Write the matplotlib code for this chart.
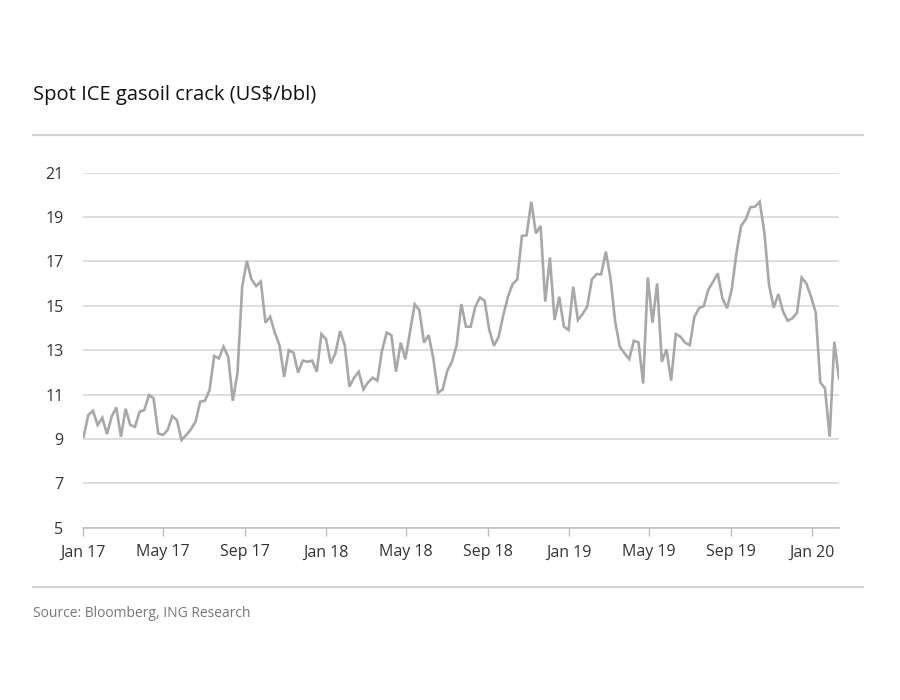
import matplotlib
matplotlib.use("Agg")
import matplotlib.pyplot as plt
import numpy as np
import pandas as pd

# Weekly spot ICE gasoil crack, US$/bbl
crack_2017 = [9.1, 10.08, 10.27, 9.63, 9.96, 9.22, 10.0, 10.42, 9.1, 10.36, 9.63, 9.55,
              10.23, 10.3, 10.98, 10.83, 9.25, 9.18, 9.4, 10.03, 9.85, 8.95, 9.18, 9.43,
              9.78, 10.68, 10.72, 11.2, 12.74, 12.63, 13.16, 12.7, 10.72, 11.99, 15.86, 17.02,
              16.19, 15.89, 16.09, 14.24, 14.51, 13.79, 13.23, 11.8, 13.0, 12.89, 11.99, 12.53,
              12.48, 12.53, 12.03, 13.73]
crack_2018 = [13.49, 12.41, 12.86, 13.86, 13.23, 11.36, 11.76, 12.03, 11.23, 11.55, 11.76, 11.63,
              13.0, 13.79, 13.68, 12.03, 13.34, 12.59, 13.83, 15.07, 14.81, 13.34, 13.68, 12.63,
              11.08, 11.23, 12.08, 12.48, 13.23, 15.08, 14.06, 14.06, 14.96, 15.38, 15.23, 13.91,
              13.2, 13.6, 14.58, 15.41, 15.98, 16.19, 18.15, 18.18, 19.69, 18.27, 18.6, 15.19,
              17.18, 14.36, 15.41, 14.06, 13.91]
crack_2019 = [15.86, 14.36, 14.63, 14.96, 16.19, 16.43, 16.42, 17.44, 16.24, 14.28, 13.16, 12.86,
              12.6, 13.43, 13.35, 11.5, 16.28, 14.24, 16.01, 12.48, 13.04, 11.63, 13.73, 13.61,
              13.34, 13.23, 14.51, 14.89, 14.99, 15.74, 16.09, 16.46, 15.34, 14.89, 15.74, 17.36,
              18.6, 18.9, 19.44, 19.47, 19.69, 18.3, 15.94, 14.92, 15.53, 14.74, 14.33, 14.44,
              14.69, 16.27, 16.01, 15.41]
crack_2020 = [14.71, 11.54, 11.28, 9.1, 13.38, 11.73]

first_week = "2017-01-02"
tick_dates = ["2017-01-01", "2017-05-01", "2017-09-01", "2018-01-01", "2018-05-01",
              "2018-09-01", "2019-01-01", "2019-05-01", "2019-09-01", "2020-01-01"]
tick_labels = ["Jan 17", "May 17", "Sep 17", "Jan 18", "May 18",
               "Sep 18", "Jan 19", "May 19", "Sep 19", "Jan 20"]
y_ticks = [5, 7, 9, 11, 13, 15, 17, 19, 21]

TITLE = "Spot ICE gasoil crack (US$/bbl)"
SOURCE = "Source: Bloomberg, ING Research"

plt.rcParams["font.family"] = ["Open Sans", "DejaVu Sans"]


def main():
    values = crack_2017 + crack_2018 + crack_2019 + crack_2020
    dates = pd.date_range(first_week, periods=len(values), freq="7D")

    fig = plt.figure(figsize=(9, 7), dpi=100)
    ax = fig.add_axes([0.0922, 0.2461, 0.8400, 0.5072])

    ax.plot(dates, values, color="#a8a8a8", linewidth=1.9, solid_joinstyle="miter")

    ax.set_ylim(5, 21)
    ax.set_xlim(dates[0], dates[-1])
    ax.set_yticks(y_ticks)
    ax.set_yticklabels([str(v) for v in y_ticks])
    ax.set_xticks(pd.to_datetime(tick_dates))
    ax.set_xticklabels(tick_labels)

    ax.grid(axis="y", color="#d4d4d4", linewidth=1.1)
    ax.set_axisbelow(True)
    for side in ("top", "right", "left"):
        ax.spines[side].set_visible(False)
    ax.spines["bottom"].set_color("#bdbdbd")
    ax.spines["bottom"].set_linewidth(1.1)

    ax.tick_params(axis="y", length=0, pad=14, labelsize=11.5, labelcolor="#333333")
    ax.tick_params(axis="x", direction="out", length=6, width=1.0, color="#bdbdbd",
                   pad=6, labelsize=11.5, labelcolor="#333333")

    fig.text(0.037, 0.864, TITLE, fontsize=14.5, color="#111111", va="center")
    fig.add_artist(plt.Line2D([0.037, 0.959], [0.807, 0.807], color="#d2d2d2", linewidth=1.6))
    fig.add_artist(plt.Line2D([0.037, 0.959], [0.161, 0.161], color="#d2d2d2", linewidth=1.6))
    fig.text(0.037, 0.124, SOURCE, fontsize=10, color="#777777", va="center")

    fig.savefig("out.png", dpi=100, facecolor="white")
    plt.close(fig)


if __name__ == "__main__":
    main()
